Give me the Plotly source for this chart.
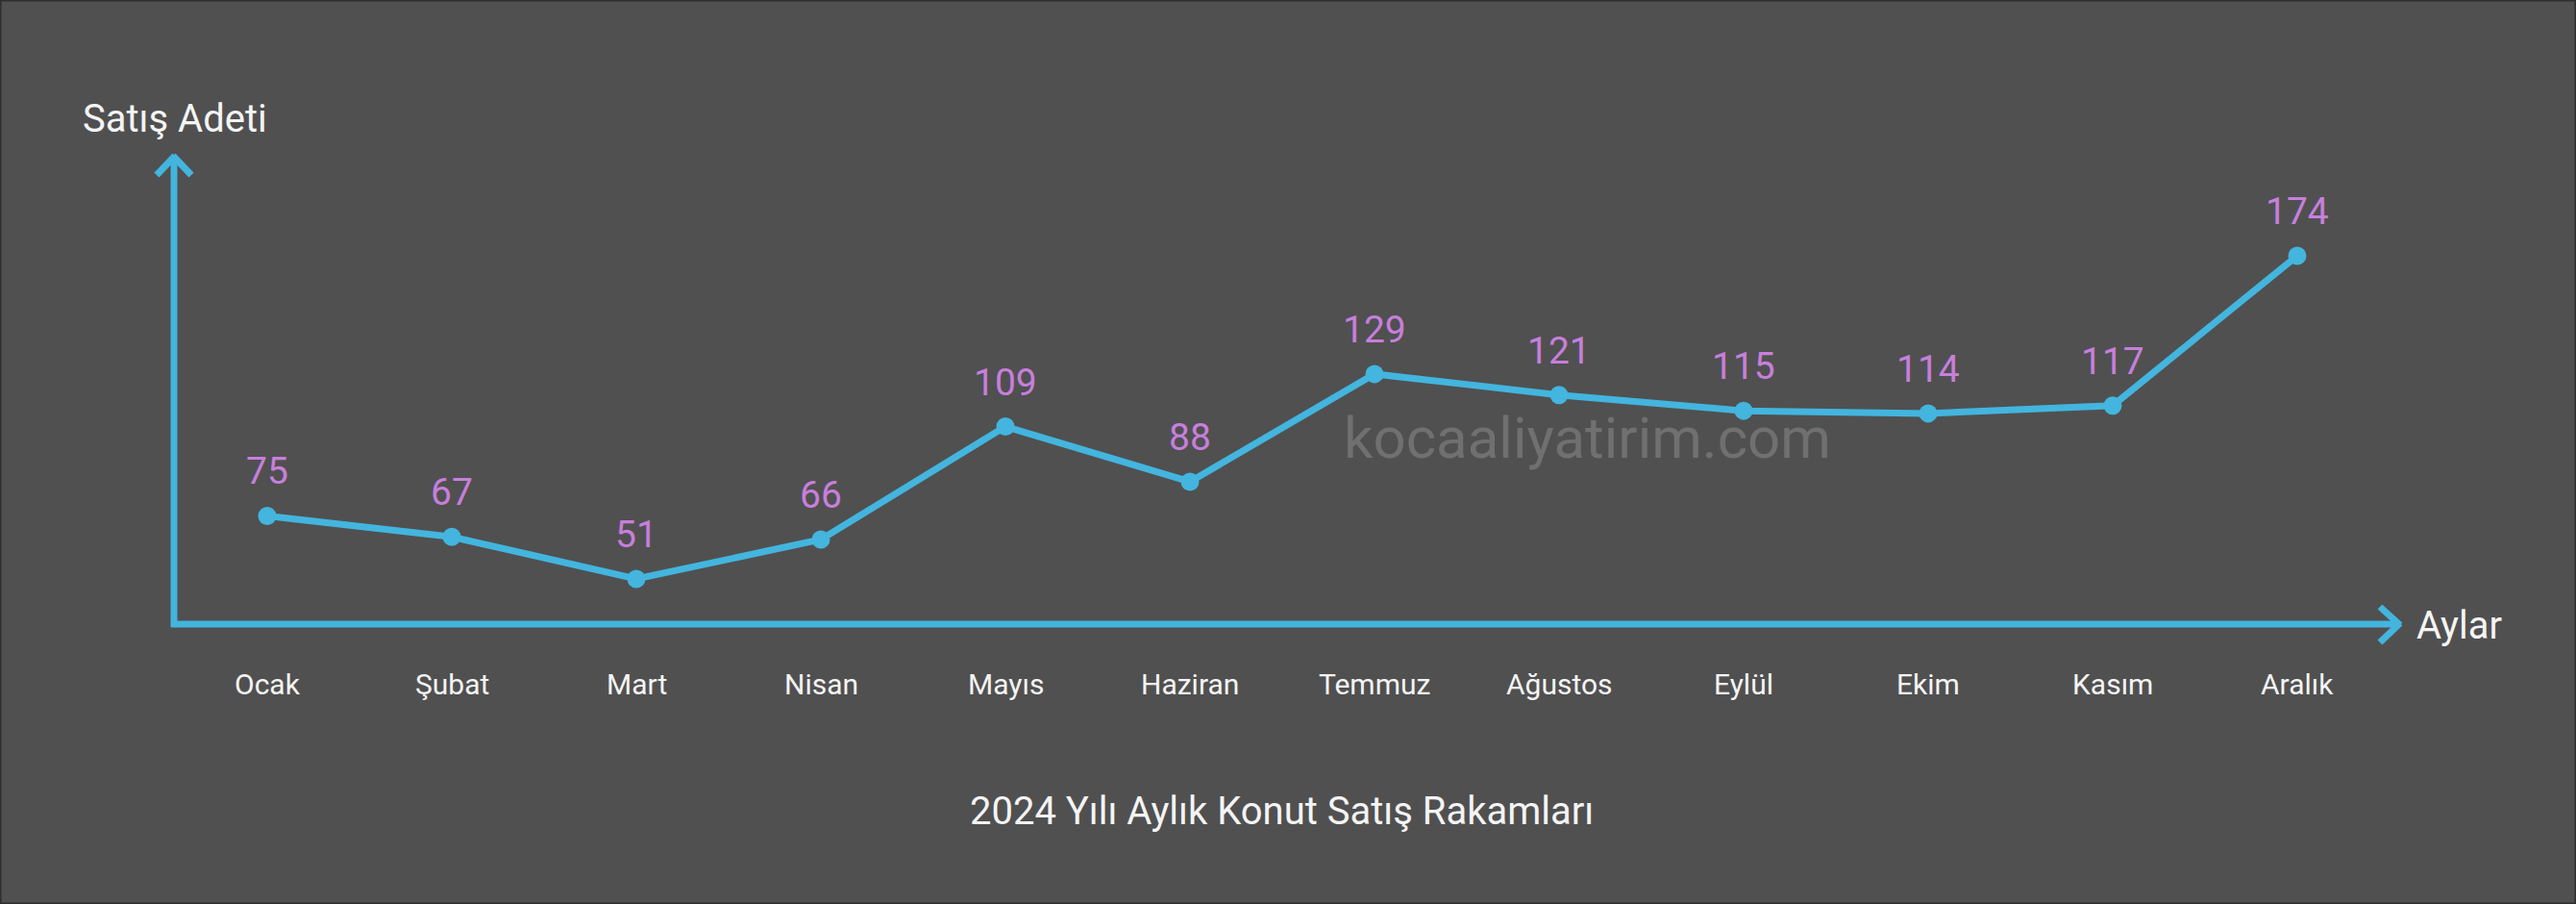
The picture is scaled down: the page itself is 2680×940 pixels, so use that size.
import plotly.graph_objects as go

months = ["Ocak", "Şubat", "Mart", "Nisan", "Mayıs", "Haziran",
          "Temmuz", "Ağustos", "Eylül", "Ekim", "Kasım", "Aralık"]
sales = [75, 67, 51, 66, 109, 88, 129, 121, 115, 114, 117, 174]
chart_title = "2024 Yılı Aylık Konut Satış Rakamları"
y_title = "Satış Adeti"
x_title = "Aylar"
watermark = "kocaaliyatirim.com"

W, H = 2680, 940
BG = "#505050"
BLUE = "#43b5de"
PURPLE = "#c77fdc"
WHITE = "#f4f4f4"
FONT = "Roboto"


def px(x, y):
    return x / W, 1 - y / H


xidx = list(range(len(months)))

fig = go.Figure()
fig.add_trace(go.Scatter(
    x=xidx, y=sales, mode="lines+markers",
    line=dict(color=BLUE, width=7),
    marker=dict(color=BLUE, size=19),
    hoverinfo="skip", showlegend=False,
))

annotations = []
for i, (m, v) in enumerate(zip(months, sales)):
    annotations.append(dict(x=i, y=v, text=str(v), showarrow=False, yshift=46,
                            xanchor="center", yanchor="middle",
                            font=dict(family=FONT, size=39, color=PURPLE)))
    annotations.append(dict(x=i, xref="x", y=px(0, 711)[1], yref="paper", text=m,
                            showarrow=False, xanchor="center", yanchor="middle",
                            font=dict(family=FONT, size=30, color=WHITE)))

def pa(x, y, text, size, color, xanchor="center"):
    X, Y = px(x, y)
    annotations.append(dict(x=X, y=Y, xref="paper", yref="paper", text=text,
                            showarrow=False, xanchor=xanchor, yanchor="middle",
                            font=dict(family=FONT, size=size, color=color)))

pa(84, 123, y_title, 40, WHITE, "left")
pa(2512, 650, x_title, 40, WHITE, "left")
pa(1333, 843, chart_title, 40, WHITE)
pa(1651, 455, watermark, 60, "#707070")

shapes = []
def seg(x0, y0, x1, y1, w=7, color=BLUE):
    X0, Y0 = px(x0, y0)
    X1, Y1 = px(x1, y1)
    shapes.append(dict(type="line", xref="paper", yref="paper", x0=X0, y0=Y0,
                       x1=X1, y1=Y1, line=dict(color=color, width=w), layer="below"))

# axes
seg(181, 652, 181, 163)
seg(178, 649, 2495, 649)
# y arrow head
seg(163, 182, 182, 162)
seg(199, 182, 180, 162)
# x arrow head
seg(2476, 631, 2497, 650)
seg(2476, 668, 2497, 648)

# border
shapes.append(dict(type="rect", xref="paper", yref="paper", x0=0, y0=0, x1=1, y1=1,
                   line=dict(color="#2e2e2e", width=3)))

fig.update_layout(
    width=W, height=H,
    margin=dict(l=0, r=0, t=0, b=0),
    paper_bgcolor=BG, plot_bgcolor=BG,
    xaxis=dict(range=[-278 / 192, (W - 278) / 192], visible=False, fixedrange=True),
    yaxis=dict(range=[51 - (H - 602) / 2.732, 51 + 602 / 2.732], visible=False, fixedrange=True),
    annotations=annotations, shapes=shapes,
    font=dict(family=FONT),
)

fig.write_html("out.html", config={"displayModeBar": False})

with open("out.html", encoding="utf-8") as f:
    html = f.read()
html = html.replace("<body>", '<body style="margin:0;overflow:hidden;">', 1)
with open("out.html", "w", encoding="utf-8") as f:
    f.write(html)
